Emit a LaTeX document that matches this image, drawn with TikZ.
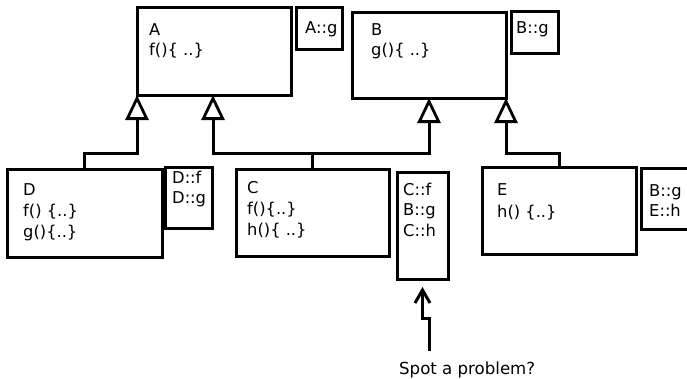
\documentclass[tikz,border=0pt]{standalone}
\usepackage{fontspec}
\setmainfont{DejaVu Sans}
\usetikzlibrary{arrows.meta}
\begin{document}
\begin{tikzpicture}[x=1pt,y=-1pt,
  box/.style={draw, line width=3pt, rectangle, anchor=north west, inner sep=0pt, outer sep=0pt},
  txt/.style={anchor=base west, inner sep=0pt, font=\fontsize{16.3}{21}\selectfont},
  inh/.style={draw, line width=3pt, -{Triangle[open, length=25pt, width=23pt, line width=2.8pt]}},
  ptr/.style={draw, line width=3pt, -{Straight Barb[length=13pt, width=15pt, line width=3pt]}}
]
\useasboundingbox (0,0) rectangle (687,378);
% boxes
\node[box, minimum width=154pt, minimum height=88pt] (A) at (137,7) {};
\node[box, minimum width=46pt, minimum height=42pt] (Ag) at (296,7) {};
\node[box, minimum width=154pt, minimum height=86pt] (B) at (352,12) {};
\node[box, minimum width=47pt, minimum height=42pt] (Bg) at (511,11) {};
\node[box, minimum width=155pt, minimum height=88pt] (D) at (7,169) {};
\node[box, minimum width=47pt, minimum height=61pt] (Ds) at (165,167) {};
\node[box, minimum width=153pt, minimum height=87pt] (C) at (236,169) {};
\node[box, minimum width=51pt, minimum height=107pt] (Cs) at (397,172) {};
\node[box, minimum width=154pt, minimum height=87pt] (E) at (482,167) {};
\node[box, minimum width=60pt, minimum height=61pt] (Es) at (641,168) {};
% texts
\node[txt] (At1) at (149,35) {A};
\node[txt] (At2) at (149,55) {f()\{ ..\}};
\node[txt] (Agt) at (305,33) {A::g};
\node[txt] (Bt1) at (371,35) {B};
\node[txt] (Bt2) at (371,55) {g()\{ ..\}};
\node[txt] (Bgt) at (516,33) {B::g};
\node[txt] (Dt1) at (23,195) {D};
\node[txt] (Dt2) at (23,216) {f() \{..\}};
\node[txt] (Dt3) at (23,237) {g()\{..\}};
\node[txt] (Dst1) at (172,183) {D::f};
\node[txt] (Dst2) at (172,203) {D::g};
\node[txt] (Ct1) at (247,193) {C};
\node[txt] (Ct2) at (247,214) {f()\{..\}};
\node[txt] (Ct3) at (247,235) {h()\{ ..\}};
\node[txt] (Cst1) at (403,195) {C::f};
\node[txt] (Cst2) at (403,215) {B::g};
\node[txt] (Cst3) at (403,236) {C::h};
\node[txt] (Et1) at (497,195) {E};
\node[txt] (Et2) at (497,217) {h() \{..\}};
\node[txt] (Est1) at (649,196) {B::g};
\node[txt] (Est2) at (649,216) {E::h};
\node[txt, font=\fontsize{16.6}{20}\selectfont] (spot) at (399,374) {Spot a problem?};
% attachment points
\coordinate (bar) at (0,153);
\coordinate (a2) at (213,95);
\coordinate (b1) at (429,98);
\coordinate (s0) at (429,351);
% inheritance connectors
\draw[inh] (D.north) |- (A.south west |- bar) -- (A.south west);
\draw[inh] (C.north) |- (a2 |- bar) -- (a2);
\draw[inh] (C.north) |- (b1 |- bar) -- (b1);
\draw[inh] (E.north) |- (B.south east |- bar) -- (B.south east);
% pointer
\draw[ptr, shorten >=8pt] (s0) -- ++(0,-33) -| (Cs.south);
\end{tikzpicture}
\end{document}
